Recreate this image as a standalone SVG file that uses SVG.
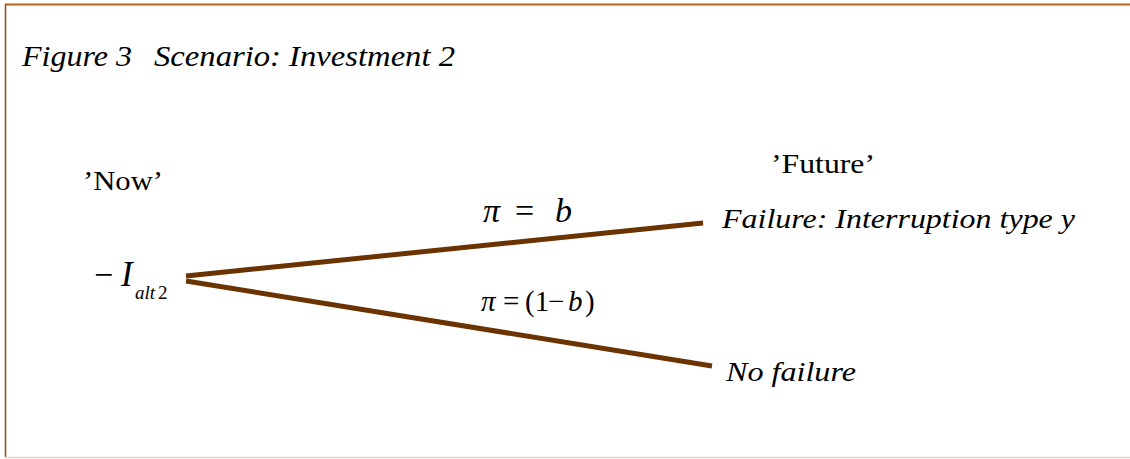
<svg xmlns="http://www.w3.org/2000/svg" width="1130" height="459" viewBox="0 0 1130 459">
<style>
text{font-family:'Liberation Serif',serif;fill:#000}
.i{font-style:italic}
.c{stroke:#6b3300;stroke-width:5;stroke-linecap:butt;fill:none}
</style>
<rect x="0" y="0" width="1130" height="459" fill="#fff"/>
<g id="frame">
<line x1="5" y1="4.5" x2="1130" y2="4.5" stroke="#b8621e" stroke-width="2"/>
<line x1="5.5" y1="4" x2="5.5" y2="457" stroke="#a04a10" stroke-width="1.5"/>
<line x1="5" y1="457.5" x2="1130" y2="457.5" stroke="#e6d3c3" stroke-width="1.5"/>
</g>
<g id="title">
<text class="i" x="22" y="66" font-size="30" textLength="110" lengthAdjust="spacingAndGlyphs">Figure 3</text>
<text class="i" x="154" y="66" font-size="30" textLength="301" lengthAdjust="spacingAndGlyphs">Scenario: Investment 2</text>
</g>
<g id="connectors">
<line class="c" x1="186" y1="276" x2="703" y2="223"/>
<line class="c" x1="186" y1="281" x2="712" y2="366"/>
</g>
<g id="now"><text x="83" y="190" font-size="27" textLength="80" lengthAdjust="spacingAndGlyphs">’Now’</text></g>
<g id="root">
<text x="94" y="286" font-size="34">−</text>
<text class="i" x="121" y="286" font-size="35">I</text>
<text class="i" x="135" y="299" font-size="19">alt</text>
<text x="158" y="299" font-size="19">2</text>
</g>
<g id="label-b">
<text class="i" x="483" y="222" font-size="34">π</text>
<text x="515" y="222" font-size="34">=</text>
<text class="i" x="555" y="222" font-size="34">b</text>
</g>
<g id="label-1b">
<text class="i" x="481" y="311" font-size="29">π</text>
<text x="503" y="311" font-size="29">=</text>
<text x="525" y="311" font-size="29">(1</text>
<text x="548" y="311" font-size="29">−</text>
<text class="i" x="568" y="311" font-size="29">b</text>
<text x="585" y="311" font-size="29">)</text>
</g>
<g id="future"><text x="771" y="173" font-size="27" textLength="104" lengthAdjust="spacingAndGlyphs">’Future’</text></g>
<g id="failure"><text class="i" x="722" y="228" font-size="27" textLength="353" lengthAdjust="spacingAndGlyphs">Failure: Interruption type y</text></g>
<g id="nofailure"><text class="i" x="726" y="381" font-size="27" textLength="130" lengthAdjust="spacingAndGlyphs">No failure</text></g>
</svg>
